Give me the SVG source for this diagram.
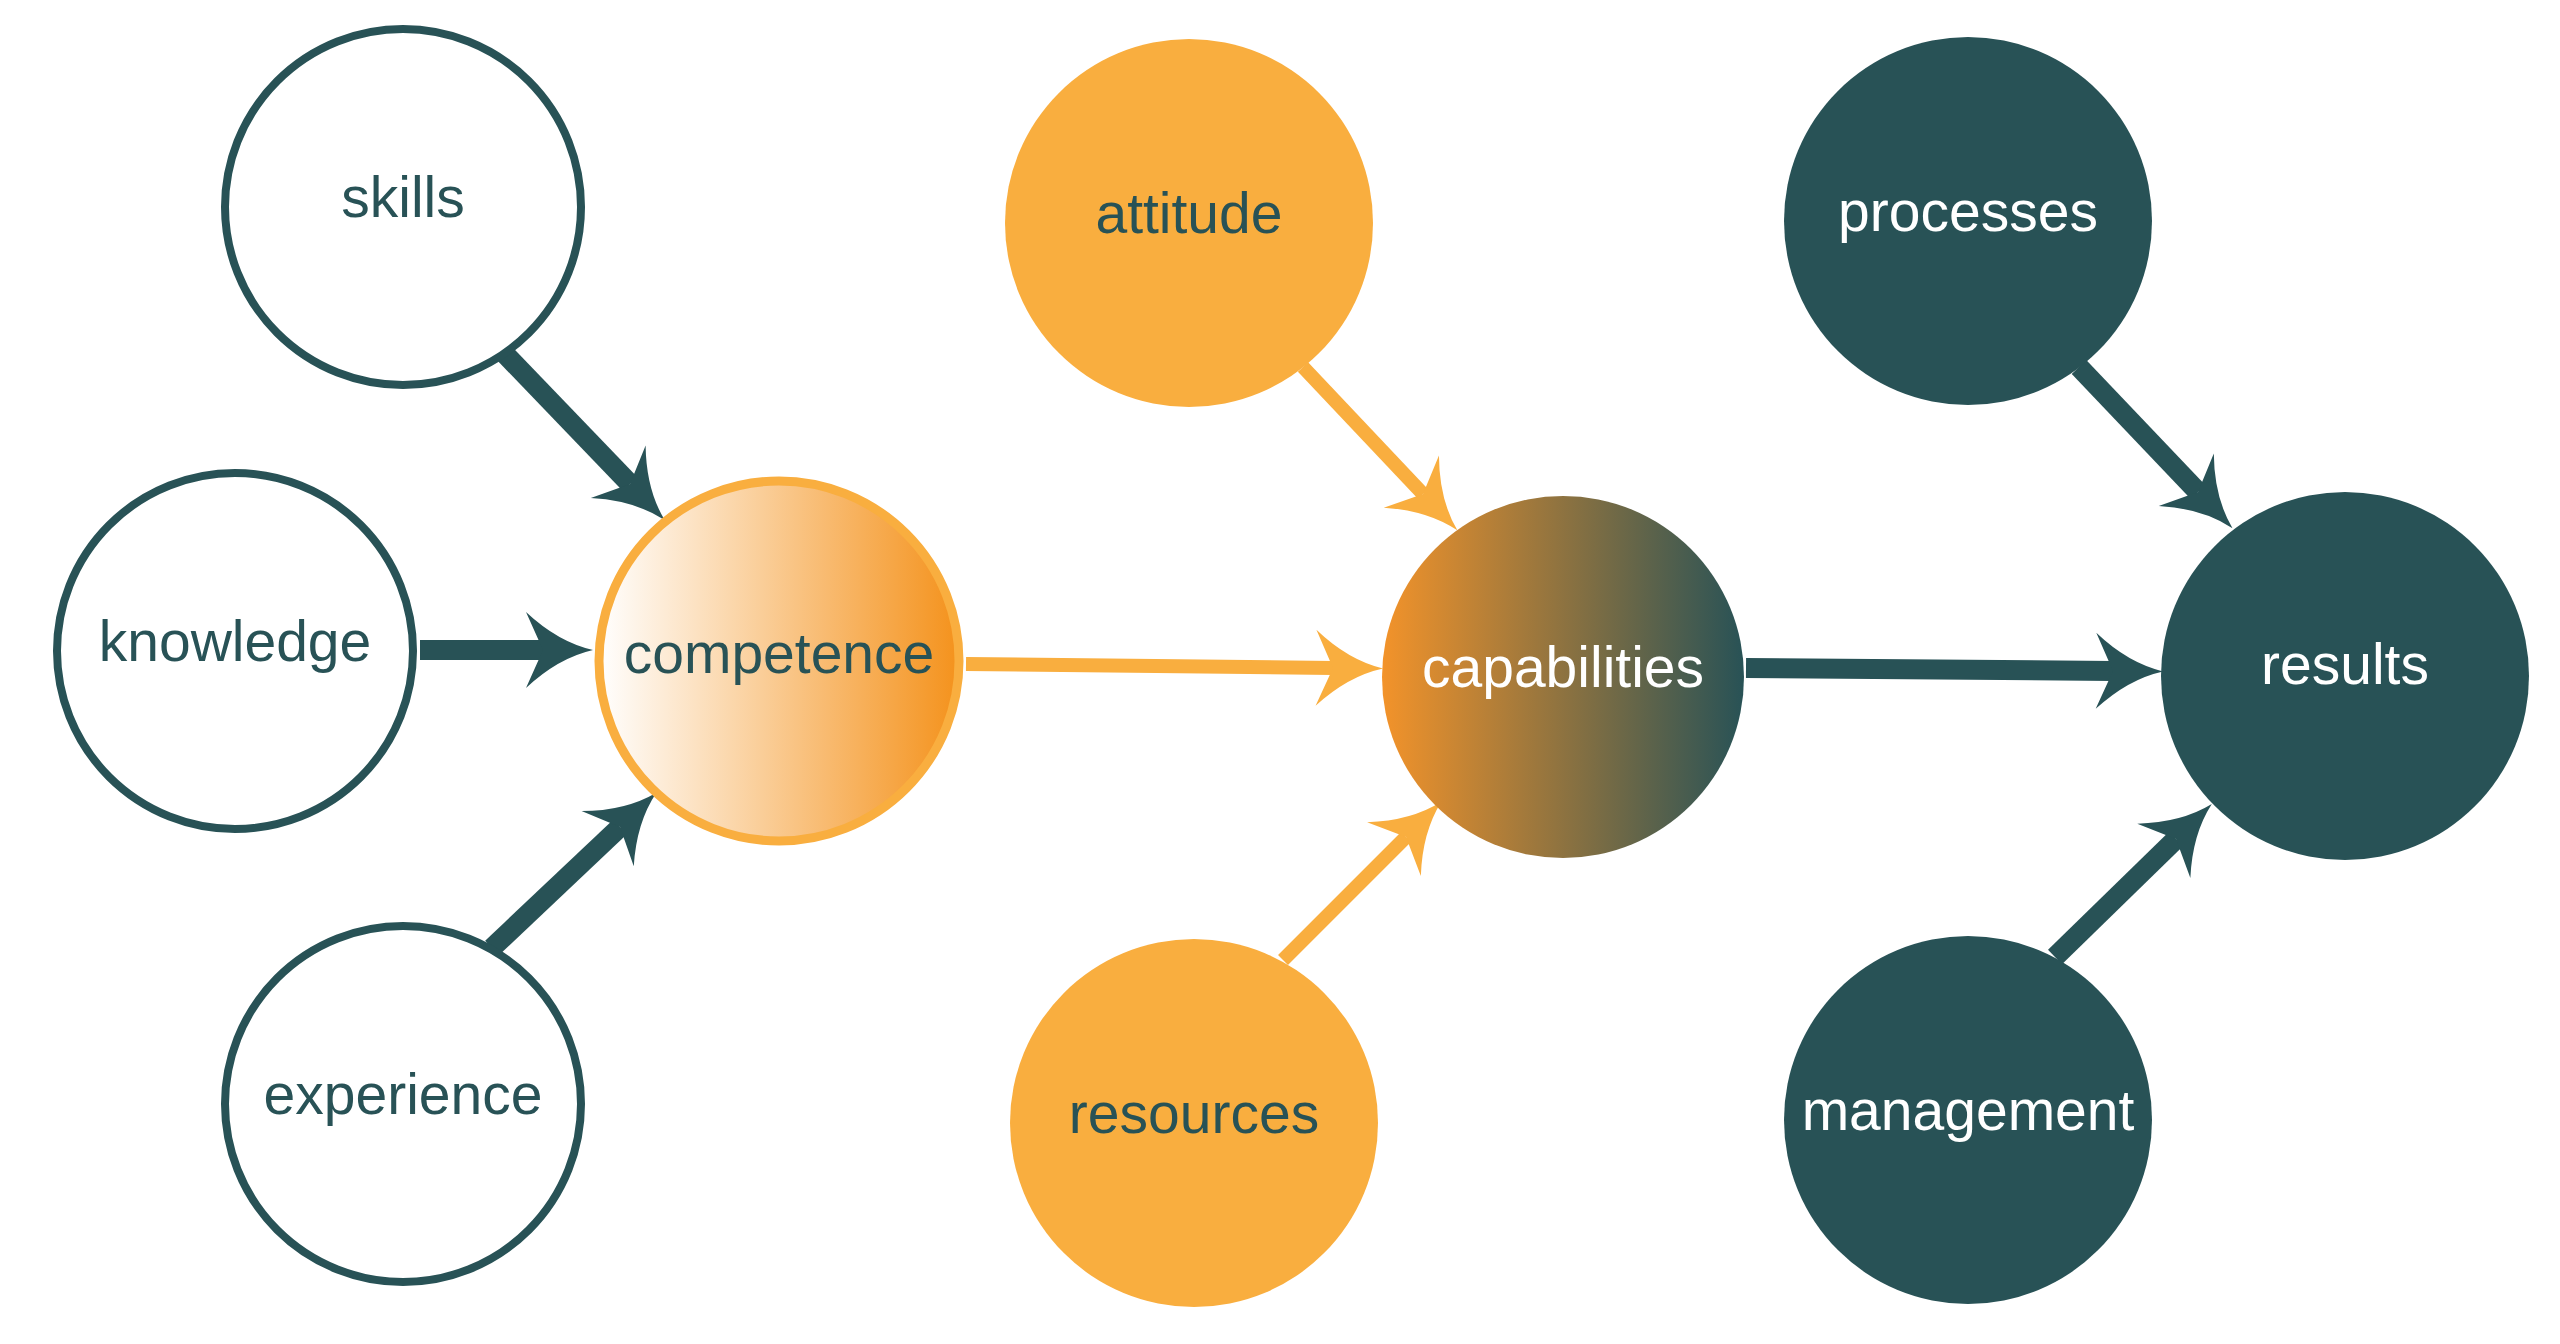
<svg xmlns="http://www.w3.org/2000/svg" width="2560" height="1344" viewBox="0 0 2560 1344">
<style>
text{font-family:"Liberation Sans",Arial,sans-serif;font-size:57px;text-anchor:middle;dominant-baseline:central}
.t{fill:#285256}.w{fill:#fff}
.ring{fill:#fff;stroke:#285256;stroke-width:8}
.dk{stroke:#285256;stroke-width:20;fill:none}
.or{stroke:#f9ae3f;stroke-width:14;fill:none}
</style>
<defs>
<linearGradient id="g1" x1="0" x2="1" y1="0" y2="0"><stop offset="0" stop-color="#fff"/><stop offset="1" stop-color="#f4921c"/></linearGradient>
<linearGradient id="g2" x1="0" x2="1" y1="0" y2="0"><stop offset="0" stop-color="#f3932a"/><stop offset="1" stop-color="#285256"/></linearGradient>
<marker id="ad" markerUnits="userSpaceOnUse" markerWidth="140" markerHeight="100" refX="0" refY="0" viewBox="-40 -50 140 100" orient="auto" overflow="visible"><path d="M50,0 Q15,8 -17,38 L0,0 L-17,-38 Q15,-8 50,0Z" fill="#285256"/></marker>
<marker id="ao" markerUnits="userSpaceOnUse" markerWidth="140" markerHeight="100" refX="0" refY="0" viewBox="-40 -50 140 100" orient="auto" overflow="visible"><path d="M50,0 Q15,8 -17,38 L0,0 L-17,-38 Q15,-8 50,0Z" fill="#f9ae3f"/></marker>
</defs>
<g id="connectors">
<line class="dk" x1="505" y1="354" x2="630" y2="484" marker-end="url(#ad)"/>
<line class="dk" x1="420" y1="650" x2="543" y2="650" marker-end="url(#ad)"/>
<line class="dk" x1="492" y1="948" x2="620" y2="827" marker-end="url(#ad)"/>
<line class="or" x1="966" y1="664" x2="1333" y2="668" marker-end="url(#ao)"/>
<line class="or" x1="1303" y1="367" x2="1423" y2="494" marker-end="url(#ao)"/>
<line class="or" x1="1283" y1="960" x2="1406" y2="837" marker-end="url(#ao)"/>
<line class="dk" x1="1746" y1="668" x2="2113" y2="671" marker-end="url(#ad)"/>
<line class="dk" x1="2079" y1="367" x2="2198" y2="492" marker-end="url(#ad)"/>
<line class="dk" x1="2055" y1="957" x2="2176" y2="839" marker-end="url(#ad)"/>
</g>
<g id="skills"><circle class="ring" cx="403" cy="207" r="178"/><text class="t" x="403" y="197">skills</text></g>
<g id="knowledge"><circle class="ring" cx="235" cy="651" r="178"/><text class="t" x="235" y="641">knowledge</text></g>
<g id="experience"><circle class="ring" cx="403" cy="1104" r="178"/><text class="t" x="403" y="1094">experience</text></g>
<g id="competence"><circle cx="779" cy="661" r="180" fill="url(#g1)" stroke="#f9ae3f" stroke-width="9"/><text class="t" x="779" y="653">competence</text></g>
<g id="attitude"><circle cx="1189" cy="223" r="184" fill="#f9ae3f"/><text class="t" x="1189" y="213">attitude</text></g>
<g id="resources"><circle cx="1194" cy="1123" r="184" fill="#f9ae3f"/><text class="t" x="1194" y="1113">resources</text></g>
<g id="capabilities"><circle cx="1563" cy="677" r="181" fill="url(#g2)"/><text class="w" x="1563" y="667">capabilities</text></g>
<g id="processes"><circle cx="1968" cy="221" r="184" fill="#285256"/><text class="w" x="1968" y="211">processes</text></g>
<g id="management"><circle cx="1968" cy="1120" r="184" fill="#285256"/><text class="w" x="1968" y="1110">management</text></g>
<g id="results"><circle cx="2345" cy="676" r="184" fill="#285256"/><text class="w" x="2345" y="664">results</text></g>
</svg>
